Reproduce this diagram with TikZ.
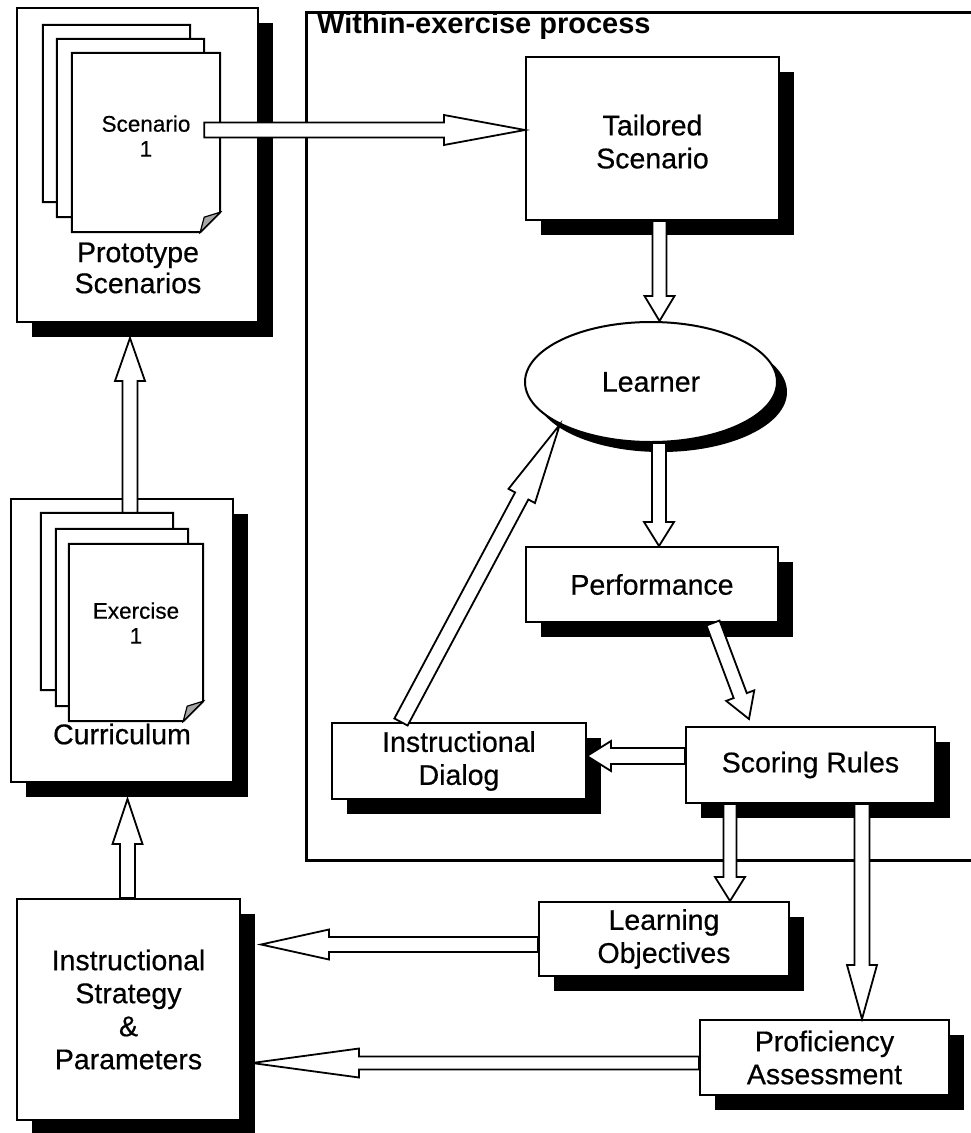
\documentclass[tikz,border=0pt]{standalone}
\usepackage{fontspec}
\setmainfont{Liberation Sans}
\newfontfamily\scanfont[FakeBold=0.5]{Liberation Sans}
\usetikzlibrary{calc,shadows,shapes.geometric}
\newcommand\blockarr[5]{%
  \coordinate (bahb) at ($(#2)!#5!(#1)$);
  \filldraw[arrbody] ($(#1)!#3!90:(#2)$) -- ($(bahb)!#3!90:(#2)$) -- ($(bahb)!#4!90:(#2)$) -- (#2)
     -- ($(bahb)!#4!-90:(#2)$) -- ($(bahb)!#3!-90:(#2)$) -- ($(#1)!#3!-90:(#2)$) -- cycle;
}
\newcommand\pageshape[1]{%
  \filldraw[pagestyle] (#1.north west) -- (#1.north east) -- ($(#1.south east)+(0,-20)$)
     -- ($(#1.south east)+(-20,0)$) -- (#1.south west) -- cycle;
  \filldraw[line width=1.2pt, fill=gray!70] ($(#1.south east)+(-20,0)$) -- ($(#1.south east)+(-16,-15)$)
     -- ($(#1.south east)+(0,-20)$) -- cycle;
}
\begin{document}
\begin{tikzpicture}[x=1pt,y=-1pt,
  shadowed/.style={drop shadow={shadow xshift=15pt, shadow yshift=-15pt, fill=black, opacity=1}},
  box/.style={draw, line width=2pt, fill=white, rectangle, inner sep=0pt, align=center,
    font=\scanfont\fontsize{28.5}{33}\selectfont, shadowed},
  pagebox/.style={rectangle, inner sep=0pt, draw=none},
  pagestyle/.style={line width=2pt, fill=white, draw=black},
  label/.style={align=center, inner sep=0pt, font=\scanfont\fontsize{28.5}{31}\selectfont},
  small/.style={align=center, inner sep=0pt, font=\scanfont\fontsize{22.5}{25}\selectfont},
  arrbody/.style={fill=white, draw=black, line width=1.8pt, line join=miter},
  frame/.style={line width=3pt}
]
\useasboundingbox (0,0) rectangle (971,1133);

% within-exercise frame
\draw[frame] (980,12) -| (306,860) -- (980,860);
\node[anchor=base west, inner sep=0pt, font=\bfseries\fontsize{29}{32}\selectfont] (title) at (317,33) {Within-exercise process};

% left column containers
\node[box, minimum width=241, minimum height=314] (proto) at (137.5,165) {};
\node[pagebox, minimum width=147, minimum height=177] (pp1) at (116.5,113.5) {};
\node[pagebox, minimum width=147, minimum height=178] (pp2) at (130.5,128) {};
\node[pagebox, minimum width=148, minimum height=179] (pp3) at (146,142.5) {};
\pageshape{pp1}\pageshape{pp2}\pageshape{pp3}
\node[small] (scen1) at (146,136) {Scenario\\1};
\node[label] (protolab) at (138,268) {Prototype\\Scenarios};

\node[box, minimum width=222, minimum height=283] (curr) at (122,640.5) {};
\node[pagebox, minimum width=132, minimum height=177] (cp1) at (107,601.5) {};
\node[pagebox, minimum width=132, minimum height=177] (cp2) at (122,617.5) {};
\node[pagebox, minimum width=134, minimum height=177] (cp3) at (136,632.5) {};
\pageshape{cp1}\pageshape{cp2}\pageshape{cp3}
\node[small] (ex1) at (136,623) {Exercise\\1};
\node[label] (currlab) at (122,734) {Curriculum};

\node[box, minimum width=223, minimum height=221] (is) at (128.5,1009.5) {Instructional\\Strategy\\\&\\Parameters};

% within-exercise nodes
\node[box, minimum width=253, minimum height=163] (tailored) at (652.5,138.5) {\\[-6pt]Tailored\\Scenario};
\node[draw, line width=2pt, fill=white, ellipse, inner sep=0pt, minimum width=252, minimum height=120,
  font=\scanfont\fontsize{28.5}{33}\selectfont,
  drop shadow={shadow xshift=10pt, shadow yshift=-10pt, fill=black, opacity=1}] (learner) at (651,382) {Learner};
\node[box, minimum width=252, minimum height=75] (perf) at (652,584.5) {Performance};
\node[box, minimum width=254, minimum height=76] (dialog) at (459,761) {Instructional\\Dialog};
\node[box, minimum width=249, minimum height=76] (scoring) at (810.5,765) {Scoring Rules};
\node[box, minimum width=250, minimum height=74] (lo) at (664,939) {Learning\\Objectives};
\node[box, minimum width=249, minimum height=75] (pa) at (824.5,1057.5) {Proficiency\\Assessment};

% connector coordinates
\coordinate (a1t) at ($(pp3.east)+(-16,-12.5)$);
\coordinate (a1h) at (tailored.west |- a1t);
\coordinate (a2t) at ($(tailored.south)+(7,0)$);
\coordinate (a2h) at (a2t |- learner.north);
\coordinate (a3t) at ($(learner.south)+(8,0)$);
\coordinate (a3h) at (a3t |- perf.north);
\coordinate (a4t) at ($(perf.south east)+(-66,0)$);
\coordinate (a4h) at ($(scoring.north west)+(64,-7)$);
\coordinate (a5t) at ($(scoring.west)+(0,-9)$);
\coordinate (a5h) at (dialog.east |- a5t);
\coordinate (a6t) at ($(dialog.north west)+(70,0)$);
\coordinate (a6h) at (learner.205);
\coordinate (a7t) at ($(scoring.south west)+(45,0)$);
\coordinate (a7h) at (a7t |- lo.north);
\coordinate (a8t) at ($(scoring.south west)+(177,0)$);
\coordinate (a8h) at (a8t |- pa.north);
\coordinate (a9t) at ($(lo.west)+(0,5.5)$);
\coordinate (a9h) at ($(is.east |- a9t)+(20,0)$);
\coordinate (a10t) at ($(pa.west)+(0,5.5)$);
\coordinate (a10h) at ($(is.east |- a10t)+(11,0)$);
\coordinate (a11t) at ($(is.north)+(-1,0)$);
\coordinate (a11h) at ($(a11t |- curr.south)+(0,16)$);
\coordinate (a12t) at ($(cp1.north)+(23,0)$);
\coordinate (a12h) at ($(a12t |- proto.south)+(0,15)$);

% connectors (hollow block arrows)
\blockarr{a1t}{a1h}{7.5pt}{15pt}{81pt}
\blockarr{a2t}{a2h}{7pt}{15pt}{25pt}
\blockarr{a3t}{a3h}{7pt}{15pt}{24pt}
\blockarr{a4t}{a4h}{7pt}{15pt}{25pt}
\blockarr{a5t}{a5h}{8pt}{15pt}{24pt}
\blockarr{a6t}{a6h}{7.5pt}{15pt}{81pt}
\blockarr{a7t}{a7h}{6.5pt}{15pt}{24pt}
\blockarr{a8t}{a8h}{7.5pt}{15pt}{54pt}
\blockarr{a9t}{a9h}{7.5pt}{15pt}{68pt}
\blockarr{a10t}{a10h}{6.5pt}{14.5pt}{107pt}
\blockarr{a11t}{a11h}{7.5pt}{15pt}{45pt}
\blockarr{a12t}{a12h}{7.5pt}{15pt}{43pt}
\end{tikzpicture}
\end{document}
